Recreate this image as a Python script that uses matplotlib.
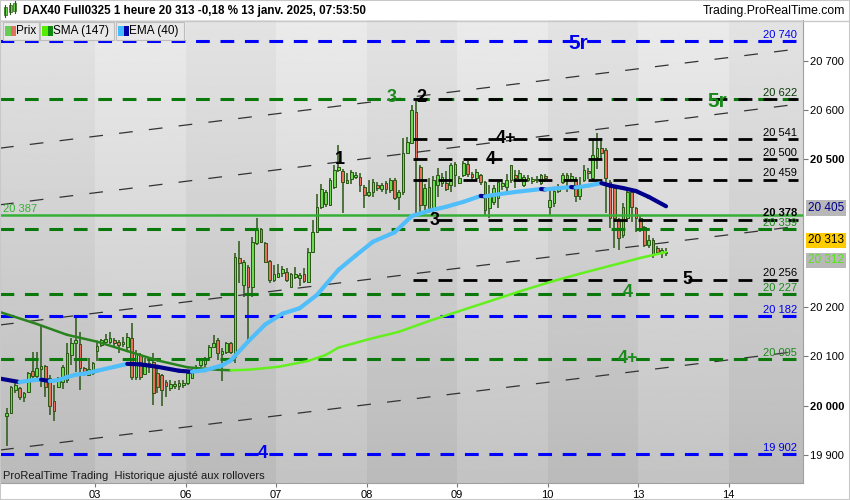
import matplotlib.pyplot as plt
import numpy as np
from matplotlib.collections import LineCollection
from matplotlib.patches import Rectangle
from matplotlib.lines import Line2D

plt.rcParams['font.family'] = ['Liberation Sans', 'DejaVu Sans']

# DAX40 Full0325, bougies 1 heure, 21 barres par séance (02 -> 13 janvier)
jours = ['03', '06', '07', '08', '09', '10', '13', '14']
barres_par_jour = 21

ouvertures = [
    19980, 19986, 20032, 20036, 20018, 20028, 20071, 20061, 20075, 20081, 20057, 20010, 20038, 20048, 20053, 20103, 20127, 20126, 20077, 20063, 20067,  # 02
    20111, 20124, 20130, 20130, 20134, 20130, 20126, 20120, 20138, 20059, 20103, 20065, 20087, 20089, 20067, 20063, 20048, 20036, 20040, 20040, 20042,  # 03
    20046, 20057, 20071, 20083, 20085, 20099, 20119, 20134, 20105, 20109, 20128, 20098, 20300, 20245, 20282, 20241, 20331, 20359, 20331, 20294, 20256,  # 06
    20262, 20270, 20272, 20241, 20262, 20260, 20268, 20252, 20312, 20353, 20404, 20410, 20408, 20444, 20479, 20477, 20453, 20461, 20465, 20465, 20444,  # 07
    20428, 20434, 20448, 20440, 20453, 20438, 20459, 20424, 20434, 20513, 20533, 20596, 20485, 20408, 20444, 20402, 20448, 20453, 20453, 20448, 20469,  # 08
    20453, 20469, 20491, 20471, 20463, 20469, 20455, 20402, 20414, 20422, 20446, 20444, 20459, 20469, 20459, 20448, 20459, 20457, 20459, 20453, 20467,  # 09
    20404, 20412, 20436, 20455, 20469, 20461, 20461, 20426, 20459, 20477, 20463, 20505, 20524, 20519, 20455, 20442, 20378, 20347, 20382, 20434, 20402,  # 10
    20382, 20363, 20327, 20337, 20321, 20310, 20310,  # 13
]
hauts = [
    19996, 20040, 20048, 20038, 20028, 20069, 20109, 20109, 20162, 20083, 20063, 20042, 20059, 20083, 20128, 20138, 20178, 20150, 20079, 20097, 20089,
    20128, 20136, 20146, 20150, 20138, 20134, 20140, 20148, 20168, 20113, 20107, 20097, 20095, 20107, 20079, 20065, 20053, 20053, 20050, 20052, 20052,
    20073, 20075, 20083, 20095, 20099, 20124, 20144, 20138, 20117, 20130, 20130, 20310, 20335, 20296, 20286, 20343, 20381, 20361, 20333, 20296, 20286,
    20288, 20284, 20280, 20270, 20282, 20270, 20280, 20320, 20377, 20430, 20450, 20438, 20463, 20489, 20530, 20481, 20473, 20479, 20475, 20473, 20448,
    20459, 20461, 20455, 20453, 20457, 20463, 20463, 20438, 20543, 20545, 20610, 20622, 20489, 20450, 20463, 20467, 20483, 20473, 20477, 20493, 20495,
    20467, 20497, 20497, 20475, 20481, 20471, 20457, 20448, 20448, 20455, 20461, 20471, 20489, 20479, 20479, 20469, 20469, 20465, 20467, 20471, 20471,
    20438, 20442, 20450, 20473, 20473, 20473, 20465, 20465, 20489, 20483, 20539, 20553, 20543, 20523, 20459, 20448, 20382, 20412, 20438, 20438, 20404,
    20386, 20365, 20347, 20341, 20324, 20320, 20320,
]
bas = [
    19919, 19984, 20026, 20012, 20008, 20026, 20048, 20055, 20038, 20018, 19982, 19968, 20036, 20034, 20047, 20083, 20069, 20032, 20061, 20063, 20063,
    20091, 20120, 20128, 20126, 20122, 20108, 20120, 20114, 20053, 20053, 20053, 20063, 20067, 20002, 20026, 20000, 20018, 20030, 20034, 20032, 20036,
    20042, 20054, 20069, 20079, 20079, 20093, 20117, 20093, 20051, 20105, 20105, 20087, 20250, 20221, 20130, 20221, 20327, 20331, 20290, 20250, 20252,
    20260, 20262, 20252, 20241, 20258, 20243, 20250, 20250, 20310, 20351, 20400, 20404, 20406, 20440, 20475, 20392, 20451, 20451, 20461, 20434, 20402,
    20424, 20424, 20436, 20434, 20430, 20432, 20418, 20398, 20428, 20513, 20533, 20392, 20392, 20394, 20392, 20392, 20424, 20444, 20436, 20434, 20444,
    20451, 20465, 20465, 20459, 20459, 20448, 20388, 20382, 20408, 20402, 20438, 20430, 20453, 20442, 20455, 20444, 20455, 20451, 20453, 20448, 20455,
    20388, 20404, 20432, 20451, 20434, 20457, 20413, 20418, 20455, 20461, 20459, 20481, 20500, 20392, 20361, 20321, 20316, 20341, 20373, 20373, 20353,
    20353, 20323, 20321, 20300, 20308, 20300, 20304,
]
clotures = [
    19986, 20038, 20042, 20018, 20026, 20067, 20061, 20077, 20080, 20038, 20000, 19990, 20055, 20079, 20107, 20128, 20133, 20077, 20067, 20075, 20087,
    20121, 20134, 20136, 20138, 20128, 20124, 20130, 20140, 20059, 20107, 20059, 20087, 20083, 20026, 20038, 20032, 20040, 20044, 20044, 20046, 20046,
    20067, 20069, 20077, 20093, 20095, 20119, 20128, 20107, 20111, 20128, 20109, 20302, 20290, 20292, 20241, 20333, 20357, 20333, 20292, 20256, 20268,
    20270, 20278, 20256, 20268, 20268, 20266, 20254, 20312, 20353, 20404, 20440, 20434, 20459, 20479, 20485, 20455, 20459, 20475, 20469, 20449, 20428,
    20434, 20455, 20442, 20448, 20440, 20459, 20422, 20434, 20513, 20535, 20600, 20500, 20408, 20442, 20402, 20459, 20469, 20465, 20440, 20489, 20491,
    20463, 20493, 20471, 20465, 20475, 20455, 20398, 20428, 20442, 20455, 20453, 20459, 20489, 20463, 20473, 20465, 20463, 20461, 20461, 20469, 20463,
    20418, 20436, 20442, 20469, 20461, 20467, 20426, 20448, 20479, 20473, 20509, 20524, 20513, 20463, 20382, 20382, 20341, 20404, 20434, 20404, 20382,
    20359, 20327, 20337, 20306, 20312, 20316, 20313,
]

# moyennes mobiles (indice de barre, valeur)
sma_idx = [-1.5, 7, 14, 21, 28, 35, 42, 49, 52, 56, 63, 70, 74, 77, 84, 91, 98, 105, 112, 119, 126, 133, 140, 147, 153]
sma_val = [20190, 20166, 20144, 20130, 20111, 20092, 20078, 20073, 20072, 20073, 20079, 20091, 20103, 20118, 20135,
           20150, 20172, 20192, 20212, 20232, 20251, 20268, 20284, 20300, 20312]
ema_idx = [-1.5, 3, 6, 8, 10, 12, 14, 16, 18, 21, 25, 28, 31, 35, 40, 43, 46, 50, 52, 56, 60, 64, 68, 72, 77, 81, 85,
           90, 94, 98, 102, 106, 110, 111, 113, 118, 124, 125, 127, 131, 132, 135, 138, 140, 143, 146, 149, 153]
ema_val = [20055, 20048, 20052, 20053, 20050, 20052, 20058, 20063, 20065, 20071, 20079, 20085, 20084, 20079, 20071,
           20069, 20072, 20082, 20092, 20130, 20165, 20187, 20198, 20225, 20276, 20305, 20333, 20352, 20385, 20396,
           20404, 20414, 20426, 20425, 20428, 20434, 20440, 20439, 20441, 20444, 20443, 20447, 20452, 20447, 20442,
           20436, 20424, 20405]

# niveaux horizontaux
niveaux_bleus = [20740, 20182, 19902]
niveaux_verts = [20622, 20359, 20227, 20095]
niveaux_noirs = [20622, 20541, 20500, 20459, 20378, 20256]
niveau_plein = 20387

# canal (droites obliques) : prix au bord gauche et au bord droit
canal_debut = [20523, 20408, 20164, 19910]
canal_fin = [20725, 20613, 20365, 20111]

# étiquettes des vagues
vagues_txt = ['5r', '5r', '3', '2', '1', '4+', '4', '3', '5', '4', '4+', '4']
vagues_x = [6.34, 7.88, 4.28, 4.61, 3.71, 5.54, 5.37, 4.75, 7.55, 6.89, 6.89, 2.85]
vagues_y = [20735, 20617, 20625, 20625, 20499, 20542, 20499, 20377, 20256, 20229, 20095, 19904]
vagues_coul = ['#0000ee', '#1a8a1a', '#1a8a1a', 'k', 'k', 'k', 'k', 'k', 'k', '#1a8a1a', '#1a8a1a', '#0000ee']

# étiquettes de prix à droite des niveaux
etiq_val = [20740, 20622, 20541, 20500, 20459, 20378, 20359, 20256, 20227, 20182, 20095, 19902]
etiq_coul = ['#0000ee', '#0b3a0b', 'k', 'k', 'k', 'k', '#1a8a1a', 'k', '#1a8a1a', '#0000ee', '#1a8a1a', '#0000ee']


def fmt(v):
    return f"{v:,}".replace(',', ' ')


fig = plt.figure(figsize=(8.5, 5), dpi=100)
ax = fig.add_axes([0, 17 / 500, 803 / 850, 463 / 500])

x0, x1 = -0.0497, 8.823
y0, y1 = 19843.1, 20783.2

# fond dégradé avec alternance des séances
for d in range(0, 9):
    g = x0 if d == 0 else d
    dr = min(d + 1, x1)
    if d % 2 == 1:
        grad = np.linspace(0.92, 0.765, 200).reshape(-1, 1)
    else:
        grad = np.linspace(0.89, 0.73, 200).reshape(-1, 1)
    ax.imshow(grad, extent=[g, dr, y0, y1], cmap='gray', vmin=0, vmax=1,
              aspect='auto', zorder=0, interpolation='bilinear')

# bougies
o = np.array(ouvertures)
h = np.array(hauts)
l = np.array(bas)
c = np.array(clotures)
x = (np.arange(len(c)) + 0.5) / barres_par_jour
contour = '#2a5616'
couleurs = np.where(c >= o, '#6bdc4f', '#e8705d')
ax.vlines(x, l, h, color=contour, lw=1.1, zorder=2)
hauteur = np.maximum(np.abs(c - o), 1.5)
ax.bar(x, hauteur, bottom=np.minimum(o, c), width=0.62 / barres_par_jour,
       color=couleurs, edgecolor=contour, linewidth=0.7, zorder=2.5)

# canal oblique
for a, b in zip(canal_debut, canal_fin):
    ax.plot([x0, 8.79], [a, b], color='#333333', lw=0.9, dashes=(11, 13), zorder=3)

# niveaux
x_fin = 8.768
for v in niveaux_bleus:
    ax.plot([x0, x_fin], [v, v], color='#0000ff', lw=2.2, dashes=(4.5, 3.5), zorder=3.5)
for v in niveaux_verts:
    ax.plot([x0, x_fin], [v, v], color='#0a780a', lw=2.2, dashes=(4.5, 3.5), zorder=3.5)
for v in niveaux_noirs:
    ax.plot([4.51, x_fin], [v, v], color='black', lw=2.0, dashes=(5, 4), zorder=3.6)
ax.axhline(niveau_plein, color='#35b035', lw=1.8, zorder=3.7)


def ligne_coloree(idx, val, c_hausse, c_baisse, lw, z):
    xs = (np.array(idx) + 0.5) / barres_par_jour
    pts = np.column_stack([xs, val])
    segs = np.stack([pts[:-1], pts[1:]], axis=1)
    cols = [c_hausse if b >= a else c_baisse for a, b in zip(val[:-1], val[1:])]
    ax.add_collection(LineCollection(segs, colors=cols, linewidths=lw,
                                     capstyle='round', joinstyle='round', zorder=z))


ligne_coloree(sma_idx, sma_val, '#64f01e', '#28821e', 1.8, 4)
ligne_coloree(ema_idx, ema_val, '#50befa', '#00008c', 3.0, 4.2)

# étiquettes des vagues
for t, xx, yy, cc in zip(vagues_txt, vagues_x, vagues_y, vagues_coul):
    ax.text(xx, yy, t, color=cc, fontsize=15 if t == '5r' else 13, fontweight='bold',
            ha='center', va='center', zorder=6)

# étiquettes de prix des niveaux
for v, cc in zip(etiq_val, etiq_coul):
    ax.annotate(fmt(v), xy=(8.757, v), xytext=(0, 1), textcoords='offset points',
                ha='right', va='bottom', fontsize=8, color=cc, zorder=6,
                fontweight='bold' if v == 20378 else 'normal')
ax.annotate(fmt(niveau_plein), xy=(x0, niveau_plein), xytext=(2.2, 1), textcoords='offset points',
            ha='left', va='bottom', fontsize=8, color='#35b035', zorder=6)

ax.text(3 / 803, 0.015, 'ProRealTime Trading  Historique ajusté aux rollovers',
        transform=ax.transAxes, fontsize=8, color='#1a1a1a', va='center', zorder=6)

ax.set_xlim(x0, x1)
ax.set_ylim(y0, y1)

# axes
ax.yaxis.tick_right()
graduations = [19900, 20000, 20100, 20200, 20500, 20600, 20700]
ax.set_yticks(graduations)
ax.set_yticklabels([fmt(v) for v in graduations])
for lab in ax.get_yticklabels():
    if lab.get_text() in ('20 000', '20 500'):
        lab.set_fontweight('bold')
        lab.set_fontsize(9)
ax.tick_params(axis='y', direction='out', length=3.5, pad=1.5, labelsize=8, color='#777777')
ax.set_xticks(range(1, 9))
ax.set_xticklabels(jours)
ax.tick_params(axis='x', direction='out', length=3, pad=2, labelsize=8, color='#777777')
for s in ['top', 'left']:
    ax.spines[s].set_visible(False)
for s in ['right', 'bottom']:
    ax.spines[s].set_color('#a0a0a0')

# marqueurs de prix sur l'axe
boite = dict(boxstyle='square,pad=0.15', lw=0)
ax.annotate('20 405', xy=(1, 20405), xycoords=('axes fraction', 'data'), xytext=(3.5, -1.2),
            textcoords='offset points', ha='left', va='center', fontsize=8.5, color='#00008c',
            bbox=dict(boite, fc='#b8b8b8'), annotation_clip=False)
ax.annotate('20 313', xy=(1, 20313), xycoords=('axes fraction', 'data'), xytext=(3.5, 8),
            textcoords='offset points', ha='left', va='center', fontsize=8.5, color='black',
            bbox=dict(boite, fc='#ffcc00'), annotation_clip=False)
ax.annotate('20 312', xy=(1, 20312), xycoords=('axes fraction', 'data'), xytext=(3.5, -6),
            textcoords='offset points', ha='left', va='center', fontsize=8.5, color='#55e615',
            bbox=dict(boite, fc='#b8b8b8'), annotation_clip=False)

# en-tête
fig.text(23 / 850, 1 - 11 / 500, 'DAX40 Full0325 1 heure 20 313 -0,18 % 13 janv. 2025, 07:53:50',
         fontsize=8.4, fontweight='bold', va='center', ha='left')
fig.text(845 / 850, 1 - 11 / 500, 'Trading.ProRealTime.com', fontsize=8.8, va='center', ha='right')
fig.add_artist(Line2D([0, 1], [1 - 20.5 / 500] * 2, color='#c8c8c8', lw=1))
for px, yb, ht in [(5, 7, 8), (10, 5, 7), (15, 3, 8)]:
    fig.add_artist(Line2D([px / 850] * 2, [1 - (yb + ht + 2) / 500, 1 - (yb - 2) / 500], color='#2c5a17', lw=0.8))
    fig.add_artist(Rectangle(((px - 1.5) / 850, 1 - (yb + ht) / 500), 3 / 850, ht / 500,
                             transform=fig.transFigure, fc='#6bdc4f', ec='#2c5a17', lw=0.5))

# légende
for bx, bw, txt, c1, c2 in [(3, 36, 'Prix', '#66cc55', '#e07060'),
                            (40, 74, 'SMA (147)', '#55ee00', '#118811'),
                            (116, 68, 'EMA (40)', '#44bbff', '#0000aa')]:
    fig.add_artist(Rectangle((bx / 850, 1 - 40 / 500), bw / 850, 18 / 500, transform=fig.transFigure,
                             fc='#e9e9e9', ec='#bdbdbd', lw=0.8, zorder=10))
    fig.text((bx + 13) / 850, 1 - 31 / 500, txt, fontsize=8.5, va='center', ha='left', zorder=11)
    fig.add_artist(Rectangle(((bx + 2) / 850, 1 - 36 / 500), 5.5 / 850, 10 / 500,
                             transform=fig.transFigure, fc=c1, ec='none', zorder=12))
    fig.add_artist(Rectangle(((bx + 7.5) / 850, 1 - 36 / 500), 5.5 / 850, 10 / 500,
                             transform=fig.transFigure, fc=c2, ec='none', zorder=12))

fig.add_artist(Rectangle((0, 0), 1, 1, transform=fig.transFigure, fc='none', ec='#c8c8c8', lw=1.5))

plt.savefig('out.png', dpi=100)
